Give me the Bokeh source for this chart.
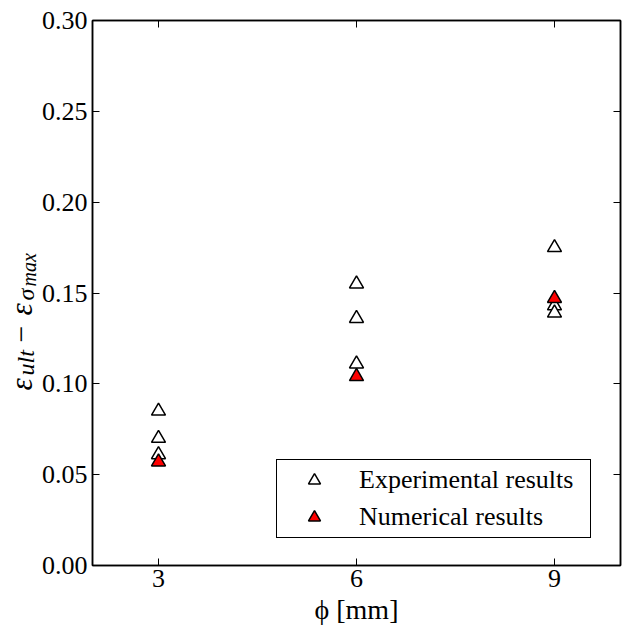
import numpy as np
from bokeh.plotting import figure
from bokeh.layouts import row
from bokeh.core.properties import value
from bokeh.models import (FixedTicker, NumeralTickFormatter, LinearAxis,
                          Legend, LegendItem, Range1d, CustomJSTickFormatter)
from bokeh.embed import file_html
from bokeh.resources import INLINE

# ---- data ----
exp_diameter = [3, 3, 3, 6, 6, 6, 9, 9, 9]
exp_strain = [0.085, 0.070, 0.061, 0.155, 0.136, 0.111, 0.175, 0.143, 0.139]
num_diameter = [3, 6, 9]
num_strain = [0.057, 0.104, 0.147]
x_ticks = [3, 6, 9]
y_ticks = [0.00, 0.05, 0.10, 0.15, 0.20, 0.25, 0.30]
series_labels = ["Experimental results", "Numerical results"]

FONT = "Liberation Serif"
FW, FH = 528, 545
TOP, BOTTOM = 20, 60
LABEL_W = 38

p = figure(frame_width=FW, frame_height=FH,
           x_range=Range1d(2, 10), y_range=Range1d(0, 0.30),
           output_backend="svg", toolbar_location=None,
           min_border_left=92 - LABEL_W, min_border_top=TOP, min_border_right=4,
           min_border_bottom=BOTTOM)
p.grid.visible = False
p.outline_line_color = "black"
p.outline_line_width = 1.5
p.background_fill_color = "white"
p.border_fill_color = "white"

def style_axis(ax, ticks):
    ax.ticker = FixedTicker(ticks=ticks)
    ax.major_tick_in = 7
    ax.major_tick_out = 0
    ax.minor_tick_in = 0
    ax.minor_tick_out = 0
    ax.major_tick_line_color = "black"
    ax.major_tick_line_width = 1
    ax.axis_line_color = "black"
    ax.axis_line_width = 1.5
    ax.major_label_text_font = FONT
    ax.major_label_text_font_size = "26px"
    ax.major_label_text_color = "black"

style_axis(p.xaxis[0], x_ticks)
style_axis(p.yaxis[0], y_ticks)
p.yaxis[0].formatter = NumeralTickFormatter(format="0.00")
p.yaxis[0].major_label_standoff = 5
p.xaxis[0].major_label_standoff = 4
p.xaxis[0].axis_label = "ϕ [mm]"
p.xaxis[0].axis_label_text_font = FONT
p.xaxis[0].axis_label_text_font_style = "normal"
p.xaxis[0].axis_label_text_font_size = "28px"
p.xaxis[0].axis_label_text_color = "black"
p.xaxis[0].axis_label_standoff = 4

for loc, ticks in (("above", x_ticks), ("right", y_ticks)):
    ax = LinearAxis(formatter=CustomJSTickFormatter(code="return ''"))
    style_axis(ax, ticks)
    ax.major_label_standoff = 0
    p.add_layout(ax, loc)

r_exp = p.scatter(exp_diameter, exp_strain, marker="triangle", size=14,
                  fill_color="white", line_color="black", line_width=1.5)
r_num = p.scatter(num_diameter, num_strain, marker="triangle", size=14,
                  fill_color="red", line_color="black", line_width=1.5)

legend = Legend(items=[LegendItem(label=series_labels[0], renderers=[r_exp]),
                       LegendItem(label=series_labels[1], renderers=[r_num])],
                location=(184, 27), padding=5, spacing=7, margin=0,
                glyph_width=64, glyph_height=30, label_height=30,
                label_width=226, label_standoff=13,
                label_text_font=FONT, label_text_font_size="26px",
                label_text_color="black",
                border_line_color="black", border_line_width=1.5,
                border_line_alpha=1.0, background_fill_color="white",
                background_fill_alpha=1.0)
p.add_layout(legend)

# ---- y axis label: a narrow companion panel holding the rotated math text ----
lab = figure(frame_width=LABEL_W, frame_height=FH,
             x_range=Range1d(0, LABEL_W), y_range=Range1d(0, FH),
             x_axis_location=None, y_axis_location=None,
             output_backend="svg", toolbar_location=None,
             min_border_left=0, min_border_right=0,
             min_border_top=TOP, min_border_bottom=BOTTOM)
lab.grid.visible = False
lab.outline_line_color = None
lab.background_fill_color = "white"
lab.border_fill_color = "white"

# (text, size, style, anchor x px, start y px from frame bottom)
pieces = [
    ("ε", "31px", "italic", 21, 175),
    ("ult", "24px", "italic", 25, 190),
    ("−", "30px", "normal", 21, 223),
    ("ε", "31px", "italic", 21, 250),
    ("σ", "24px", "italic", 25, 265),
    ("max", "20px", "italic", 28, 279),
]
for txt, fs, st, bx, by in pieces:
    lab.text(x=[bx], y=[by], text=[txt], angle=np.pi / 2,
             text_font=value(FONT), text_font_size=value(fs),
             text_font_style=st, text_align="left",
             text_baseline="alphabetic", text_color="black")

layout = row(lab, p, spacing=0)
open("out.html", "w").write(file_html(layout, INLINE))
